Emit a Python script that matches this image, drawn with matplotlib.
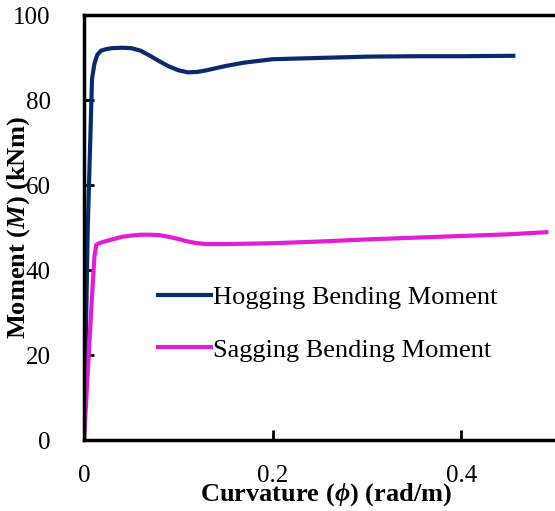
import matplotlib.pyplot as plt
import numpy as np

plt.rcParams['font.family'] = ['Liberation Serif', 'DejaVu Serif']
plt.rcParams['mathtext.fontset'] = 'custom'
plt.rcParams['mathtext.it'] = 'Liberation Serif:italic:bold'
plt.rcParams['mathtext.rm'] = 'Liberation Serif:bold'

# curvature (rad/m) and moment (kNm)
hog_x = [0, 0.004, 0.0085, 0.011, 0.014, 0.018, 0.024, 0.03, 0.04, 0.05, 0.06, 0.07, 0.08,
         0.09, 0.1, 0.11, 0.12, 0.13, 0.15, 0.17, 0.2, 0.25, 0.3, 0.35, 0.4, 0.455]
hog_y = [0, 50, 85, 88.5, 90.6, 91.6, 92.0, 92.2, 92.3, 92.2, 91.6, 90.4, 89.1,
         87.9, 87.0, 86.5, 86.6, 87.0, 88.0, 88.8, 89.6, 89.9, 90.2, 90.3, 90.3, 90.4]
sag_x = [0, 0.004, 0.008, 0.011, 0.013, 0.016, 0.02, 0.03, 0.04, 0.05, 0.06, 0.07, 0.08,
         0.09, 0.1, 0.11, 0.12, 0.13, 0.15, 0.2, 0.25, 0.3, 0.35, 0.4, 0.45, 0.49]
sag_y = [0, 16, 32, 43, 45.9, 46.3, 46.6, 47.2, 47.8, 48.1, 48.3, 48.3, 48.2,
         47.8, 47.3, 46.7, 46.3, 46.1, 46.1, 46.3, 46.7, 47.2, 47.6, 48.0, 48.4, 48.9]

fig = plt.figure(figsize=(5.55, 5.11), dpi=100)
ax = fig.add_axes([84 / 555, 71 / 511, 471.75 / 555, 425 / 511])

ax.plot(hog_x, hog_y, color='#0A2A6E', lw=3, label='Hogging Bending Moment')
ax.plot(sag_x, sag_y, color='#E31CD5', lw=3, label='Sagging Bending Moment')

ax.set_xlim(0, 0.5)
ax.set_ylim(0, 100)
ax.set_xticks([0, 0.2, 0.4])
ax.set_xticklabels(['0', '0.2', '0.4'])
ax.set_yticks([0, 20, 40, 60, 80, 100])
ax.tick_params(direction='in', length=7, width=2, labelsize=18, pad=18)
ax.tick_params(axis='y', pad=24)
for s in ['left', 'bottom', 'top']:
    ax.spines[s].set_linewidth(2.5)
ax.spines['right'].set_visible(False)

ax.set_xlabel(r'Curvature ($\phi$) (rad/m)', fontsize=19, fontweight='bold')
ax.set_ylabel(r'Moment ($M$) (kNm)', fontsize=19, fontweight='bold')
ax.xaxis.set_label_coords(0.513, -0.097)
ax.yaxis.set_label_coords(-0.11, 0.5)

ax.legend(loc='upper left', bbox_to_anchor=(0.106, 0.419), frameon=False, fontsize=19,
          handlelength=2.0, handletextpad=0.1, labelspacing=1.1)

fig.savefig('out.png', dpi=100)
